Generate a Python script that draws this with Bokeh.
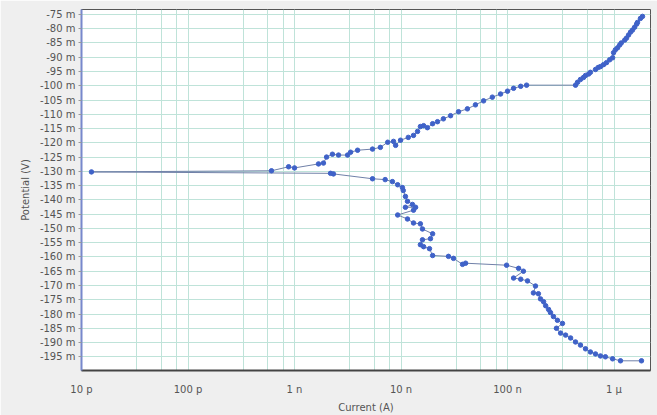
from bokeh.plotting import figure
from bokeh.models import FixedTicker, CustomJSTickFormatter, Range1d
from bokeh.embed import file_html
from bokeh.resources import INLINE

# Tafel scan: current (A) and potential (V), in scan order (cathodic -> anodic)
current_A = [
    1.81e-6, 1.15e-6, 9.7e-7, 8.3e-7, 7.46e-7, 6.7e-7, 6.0e-7, 5.4e-7, 4.84e-7, 4.35e-7,
    3.91e-7, 3.51e-7, 3.15e-7, 2.88e-7, 3.28e-7, 2.94e-7, 2.70e-7, 2.53e-7, 2.43e-7, 2.28e-7,
    2.18e-7, 2.04e-7, 1.95e-7, 1.75e-7, 1.83e-7, 1.54e-7, 1.33e-7, 1.14e-7, 1.41e-7, 1.27e-7,
    9.8e-8, 4.04e-8, 3.78e-8, 3.11e-8, 2.79e-8, 1.98e-8, 1.85e-8, 1.63e-8, 1.52e-8, 1.59e-8,
    1.89e-8, 1.98e-8, 1.59e-8, 1.52e-8, 1.31e-8, 1.15e-8, 9.3e-9, 1.31e-8, 1.37e-8, 1.10e-8,
    1.28e-8, 1.15e-8, 1.10e-8, 1.05e-8, 1.03e-8, 9.3e-9, 8.3e-9, 7.1e-9, 5.4e-9, 2.32e-9,
    2.18e-9, 1.24e-11,
    6.08e-10, 8.8e-10, 1.0e-9, 1.68e-9, 1.87e-9, 2.0e-9, 2.27e-9, 2.59e-9, 3.15e-9, 3.36e-9,
    3.91e-9, 5.4e-9, 6.4e-9, 7.5e-9, 8.5e-9, 8.9e-9, 9.9e-9, 1.17e-8, 1.31e-8, 1.43e-8,
    1.52e-8, 1.63e-8, 1.77e-8, 1.98e-8, 2.2e-8, 2.5e-8, 2.92e-8, 3.47e-8, 4.2e-8, 5.0e-8,
    5.96e-8, 7.2e-8, 8.6e-8, 1.0e-7, 1.14e-7, 1.33e-7, 1.51e-7, 4.35e-7, 4.54e-7, 4.84e-7,
    5.17e-7, 5.4e-7, 5.77e-7, 6.0e-7, 6.7e-7, 7.1e-7, 7.46e-7, 7.97e-7, 8.5e-7, 9.1e-7,
    9.7e-7, 9.9e-7, 1.03e-6, 1.08e-6, 1.13e-6, 1.17e-6, 1.26e-6, 1.31e-6, 1.37e-6, 1.43e-6,
    1.49e-6, 1.56e-6, 1.63e-6, 1.66e-6, 1.77e-6, 1.85e-6,
]
potential_V = [
    -0.1964, -0.1964, -0.1957, -0.1950, -0.1947, -0.1940, -0.1933, -0.1922, -0.1909, -0.1898,
    -0.1884, -0.1874, -0.1867, -0.1850, -0.1833, -0.1822, -0.1809, -0.1795, -0.1784, -0.1771,
    -0.1757, -0.1747, -0.1729, -0.1726, -0.1702, -0.1684, -0.1678, -0.1674, -0.1650, -0.1640,
    -0.1629, -0.1622, -0.1626, -0.1605, -0.1598, -0.1595, -0.1571, -0.1564, -0.1557, -0.1540,
    -0.1536, -0.1519, -0.1502, -0.1484, -0.1481, -0.1467, -0.1453, -0.1436, -0.1426, -0.1426,
    -0.1416, -0.1405, -0.1388, -0.1367, -0.1357, -0.1347, -0.1336, -0.1329, -0.1326, -0.1309,
    -0.1307, -0.1302,
    -0.1298, -0.1284, -0.1288, -0.1274, -0.1271, -0.1250, -0.1240, -0.1243, -0.1243, -0.1233,
    -0.1226, -0.1222, -0.1216, -0.1198, -0.1195, -0.1209, -0.1191, -0.1181, -0.1174, -0.1160,
    -0.1143, -0.1140, -0.1147, -0.1133, -0.1126, -0.1116, -0.1105, -0.1091, -0.1081, -0.1067,
    -0.1053, -0.1040, -0.1029, -0.1019, -0.1009, -0.1002, -0.0998, -0.0998, -0.0988, -0.0978,
    -0.0971, -0.0964, -0.0959, -0.0953, -0.0943, -0.0936, -0.0933, -0.0926, -0.0919, -0.0909,
    -0.0902, -0.0884, -0.0874, -0.0867, -0.0857, -0.0850, -0.0840, -0.0833, -0.0822, -0.0812,
    -0.0805, -0.0795, -0.0784, -0.0778, -0.0764, -0.0757,
]

x_major_ticks = [1e-11, 1e-10, 1e-9, 1e-8, 1e-7, 1e-6]
x_grid_multipliers = [3.3, 5.6, 7.8]
y_ticks_mV = [-75, -80, -85, -90, -95, -100, -105, -110, -115, -120, -125, -130, -135,
              -140, -145, -150, -155, -160, -165, -170, -175, -180, -185, -190, -195]

p = figure(width=657, height=415, x_axis_type="log", output_backend="svg",
           toolbar_location=None,
           x_range=Range1d(1e-11, 2.2e-6), y_range=Range1d(-0.1998, -0.07328),
           min_border_left=81, min_border_right=7, min_border_top=9, min_border_bottom=39)

p.background_fill_color = "white"
p.border_fill_color = "#efefef"
p.outline_line_color = "#555555"
p.outline_line_width = 1

minor = [d * m for d in x_major_ticks for m in x_grid_multipliers]
p.xaxis.ticker = FixedTicker(ticks=x_major_ticks, minor_ticks=minor)
p.yaxis.ticker = FixedTicker(ticks=[t / 1000 for t in y_ticks_mV], minor_ticks=[])

p.xaxis.formatter = CustomJSTickFormatter(code="""
const e = Math.round(Math.log10(tick));
const base = Math.floor(e / 3) * 3;
const mant = Math.round(Math.pow(10, e - base));
const pre = {"-15": "f", "-12": "p", "-9": "n", "-6": "\\u00b5", "-3": "m", "0": ""}[String(base)];
return mant + " " + pre;
""")
p.yaxis.formatter = CustomJSTickFormatter(code="return Math.round(tick * 1000) + ' m';")

p.xgrid.grid_line_color = "#bfe3d9"
p.xgrid.minor_grid_line_color = "#bfe3d9"
p.ygrid.grid_line_color = "#bfe3d9"
p.xgrid.grid_line_width = 1
p.ygrid.grid_line_width = 1

for ax in (p.xaxis, p.yaxis):
    ax.major_label_text_font = "DejaVu Sans"
    ax.major_label_text_font_size = "10px"
    ax.major_label_text_color = "#555555"
    ax.axis_label_text_font = "DejaVu Sans"
    ax.axis_label_text_font_size = "10px"
    ax.axis_label_text_font_style = "normal"
    ax.axis_label_text_color = "#555555"
    ax.minor_tick_line_color = None
    ax.major_tick_in = 0

p.xaxis.axis_label = "Current (A)"
p.yaxis.axis_label = "Potential (V)"
p.xaxis.axis_line_color = "#444444"
p.xaxis.axis_line_width = 2
p.xaxis.major_tick_line_color = None
p.xaxis.major_label_standoff = 7
p.xaxis.axis_label_standoff = 4
p.yaxis.axis_line_color = "#7788cc"
p.yaxis.axis_line_width = 2
p.yaxis.major_tick_line_color = "#999999"
p.yaxis.major_tick_out = 3
p.yaxis.major_label_standoff = 3
p.yaxis.axis_label_standoff = 6

p.line(current_A, potential_V, line_color="#7080a8", line_width=1)
p.scatter(current_A, potential_V, size=4.5, fill_color="#3f62c8", line_color="#3f62c8")

open("out.html", "w").write(file_html(p, INLINE))
